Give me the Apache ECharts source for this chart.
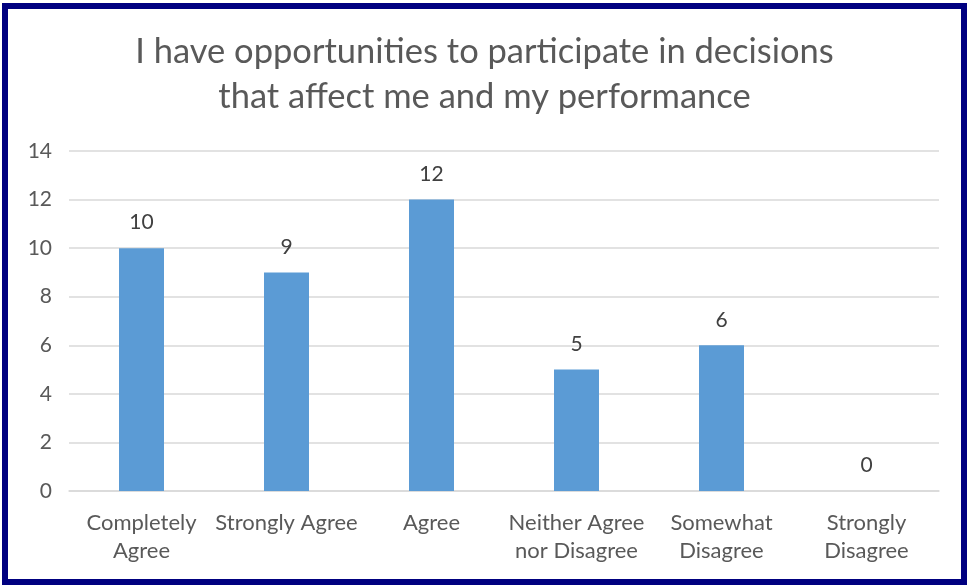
<!DOCTYPE html>
<html>
<head>
<meta charset="utf-8">
<script src="https://cdn.jsdelivr.net/npm/echarts@6/dist/echarts.min.js"></script>
<style>
  html, body { margin: 0; padding: 0; background: #ffffff; }
  #frame {
    position: absolute; left: 2px; top: 3px; width: 953px; height: 570px;
    border: 6px solid #000080; background: #ffffff;
  }
  #chart { width: 953px; height: 570px; }
</style>
</head>
<body>
<div id="frame"><div id="chart"></div></div>
<script>
// Survey responses per answer option
const categories = ['Completely\nAgree', 'Strongly Agree', 'Agree', 'Neither Agree\nnor Disagree', 'Somewhat\nDisagree', 'Strongly\nDisagree'];
const responses = [10, 9, 12, 5, 6, 0];
const titleText = 'I have opportunities to participate in decisions\nthat affect me and my performance';

const chart = echarts.init(document.getElementById('chart'));
chart.setOption({
  animation: false,
  title: {
    text: titleText,
    left: 'center',
    top: 15,
    textStyle: { fontFamily: 'Lato', fontWeight: 'normal', fontSize: 34.5, color: '#595959', lineHeight: 45 }
  },
  grid: { left: 61, right: 22, top: 142, bottom: 88 },
  xAxis: {
    type: 'category',
    data: categories,
    axisLine: { lineStyle: { color: '#d9d9d9', width: 1.5 } },
    axisTick: { show: false },
    axisLabel: { fontFamily: 'Lato', fontSize: 22, color: '#595959', lineHeight: 28, margin: 18, interval: 0 }
  },
  yAxis: {
    type: 'value',
    min: 0, max: 14, interval: 2,
    axisLine: { show: false },
    axisTick: { show: false },
    splitLine: { lineStyle: { color: '#d9d9d9', width: 1.5 } },
    axisLabel: { fontFamily: 'Lato', fontSize: 21, color: '#595959', margin: 17 }
  },
  series: [{
    type: 'bar',
    data: responses,
    barWidth: 45,
    itemStyle: { color: '#5b9bd5' },
    label: { show: true, position: 'top', distance: 15, fontFamily: 'Lato', fontSize: 21, color: '#404040' }
  }]
});
</script>
</body>
</html>
